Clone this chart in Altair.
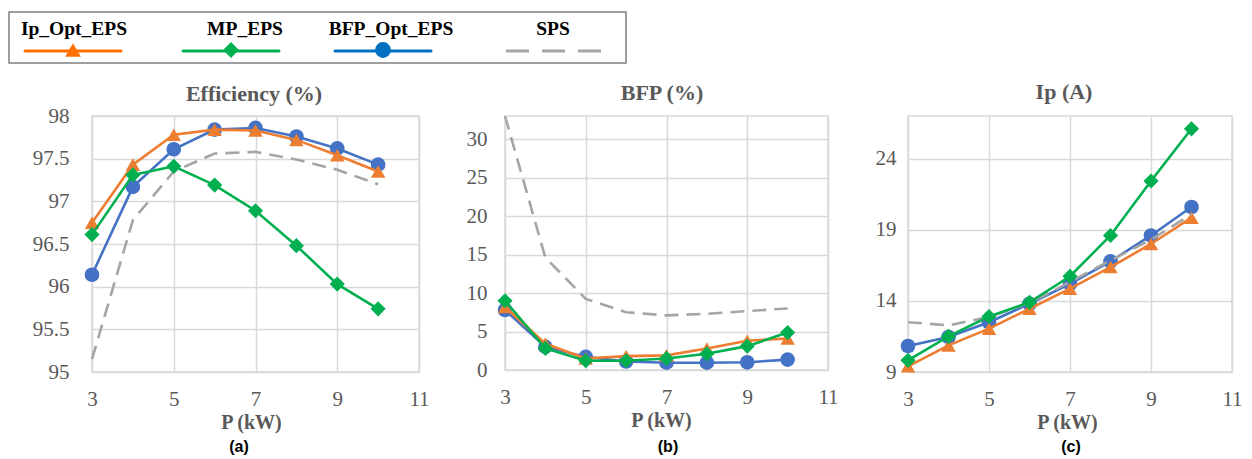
import altair as alt
import pandas as pd

# ---------------- data ----------------
P_KW = [3, 4, 5, 6, 7, 8, 9, 10]
SERIES = ["Ip_Opt_EPS", "MP_EPS", "BFP_Opt_EPS", "SPS"]

EFF_IP = [96.75, 97.43, 97.78, 97.84, 97.83, 97.72, 97.54, 97.35]
EFF_MP = [96.61, 97.31, 97.41, 97.19, 96.89, 96.48, 96.03, 95.74]
EFF_BFP = [96.14, 97.17, 97.61, 97.84, 97.86, 97.76, 97.62, 97.43]
EFF_SPS = [95.15, 96.78, 97.35, 97.56, 97.58, 97.49, 97.37, 97.20]

BFP_IP = [8.2, 3.4, 1.5, 1.8, 1.9, 2.8, 3.8, 4.1]
BFP_MP = [9.0, 2.8, 1.2, 1.2, 1.5, 2.1, 3.1, 4.86]
BFP_BFP = [7.8, 3.0, 1.7, 1.1, 0.95, 0.95, 1.0, 1.35]
BFP_SPS = [33.0, 14.6, 9.24, 7.5, 7.1, 7.3, 7.65, 8.0]

IP_IP = [9.4, 10.87, 12.05, 13.45, 14.86, 16.38, 18.0, 19.85]
IP_MP = [9.82, 11.5, 12.9, 13.9, 15.73, 18.6, 22.43, 26.1]
IP_BFP = [10.83, 11.46, 12.5, 13.8, 15.2, 16.78, 18.6, 20.6]
IP_SPS = [12.5, 12.28, 12.87, 13.85, 15.33, 16.85, 18.3, 20.1]

X_TICKS = [3, 5, 7, 9, 11]
EFF_TICKS = [95, 95.5, 96, 96.5, 97, 97.5, 98]
BFP_TICKS = [0, 5, 10, 15, 20, 25, 30]
IP_TICKS = [9, 14, 19, 24]

TITLES = ["Efficiency (%)", "BFP (%)", "Ip (A)"]
X_TITLE = "P (kW)"
CAPTIONS = ["(a)", "(b)", "(c)"]

# ---------------- style ----------------
SERIF = "Liberation Serif"
SANS = "Liberation Sans"
TXT = "#595959"
GRID = "#D9D9D9"
COLORS = {"Ip_Opt_EPS": "#ED7D31", "MP_EPS": "#00B050",
          "BFP_Opt_EPS": "#4472C4", "SPS": "#A5A5A5"}
LEG_COLORS = {"Ip_Opt_EPS": "#FF7000", "MP_EPS": "#00B050",
              "BFP_Opt_EPS": "#0070C0", "SPS": "#A6A6A6"}
SHAPES = {"Ip_Opt_EPS": "triangle-up", "MP_EPS": "diamond",
          "BFP_Opt_EPS": "circle"}
SIZES = {"Ip_Opt_EPS": 210, "MP_EPS": 230, "BFP_Opt_EPS": 215}
DRAW_ORDER = ["BFP_Opt_EPS", "Ip_Opt_EPS", "SPS", "MP_EPS"]


def panel(values, title, ydomain, yticks, yfmt, width, height, title_x,
          title_y, ypad, xtitle_x, caption, cap_x, cap_y):
    rows = []
    for s, vals in values.items():
        for x, v in zip(P_KW, vals):
            rows.append({"P": x, "v": v, "series": s})
    df = pd.DataFrame(rows)
    base = alt.Chart(df)

    xenc = alt.X("P:Q",
                 scale=alt.Scale(domain=[3, 11], nice=False, zero=False),
                 axis=alt.Axis(values=X_TICKS, title=X_TITLE, labelFlush=False,
                               labelPadding=16, titlePadding=3,
                               titleFontSize=20, titleX=xtitle_x,
                               labelOverlap=False))
    yenc = alt.Y("v:Q",
                 scale=alt.Scale(domain=ydomain, nice=False, zero=False),
                 axis=alt.Axis(values=yticks, format=yfmt, labelPadding=ypad,
                               labelAlign="right", labelBaseline="middle",
                               labelOverlap=False, title=None))

    layers = []
    for s in DRAW_ORDER:
        sub = base.transform_filter(alt.datum.series == s)
        lkw = dict(color=COLORS[s], strokeWidth=2.6)
        if s == "SPS":
            lkw["strokeDash"] = [14, 8]
        layers.append(sub.mark_line(**lkw).encode(x=xenc, y=yenc))
        if s in SHAPES:
            layers.append(sub.mark_point(shape=SHAPES[s], filled=True,
                                         size=SIZES[s], opacity=1,
                                         color=COLORS[s])
                          .encode(x=xenc, y=yenc))
    ttl = (alt.Chart(pd.DataFrame({"t": [title]}))
           .mark_text(font=SERIF, fontWeight="bold", fontSize=22,
                      color=TXT, baseline="middle")
           .encode(text="t:N", x=alt.value(title_x), y=alt.value(title_y)))
    cap = (alt.Chart(pd.DataFrame({"t": [caption]}))
           .mark_text(font=SANS, fontWeight="bold", fontSize=16,
                      color="black", baseline="middle")
           .encode(text="t:N", x=alt.value(cap_x), y=alt.value(cap_y)))
    layers += [ttl, cap]
    return alt.layer(*layers).properties(
        width=width, height=height,
        view=alt.ViewBackground(stroke=GRID, strokeWidth=1.5),
    )


pa = panel({"BFP_Opt_EPS": EFF_BFP, "Ip_Opt_EPS": EFF_IP, "SPS": EFF_SPS,
            "MP_EPS": EFF_MP}, TITLES[0], [95, 98], EFF_TICKS, ".1~f",
           327, 256, 162, -22, 23, 159, CAPTIONS[0], 147, 331)
pb = panel({"BFP_Opt_EPS": BFP_BFP, "Ip_Opt_EPS": BFP_IP, "SPS": BFP_SPS,
            "MP_EPS": BFP_MP}, TITLES[1], [0, 33], BFP_TICKS, "d",
           323, 254, 157, -23, 18, 156, CAPTIONS[1], 163, 331)
pc = panel({"BFP_Opt_EPS": IP_BFP, "Ip_Opt_EPS": IP_IP, "SPS": IP_SPS,
            "MP_EPS": IP_MP}, TITLES[2], [9, 27], IP_TICKS, "d",
           324, 256, 156, -24, 12, 159, CAPTIONS[2], 163, 331)

# ---------------- legend (box drawn left of the first panel's origin) ----
BOX_L, BOX_R = -83, 534
LEG_LINE_X = [-19, 139, 291, 462]
LEG_TEXT_X = [-18, 153, 299, 461]
leg_layers = [
    alt.Chart(pd.DataFrame({"name": ["box"]}))
    .mark_rect(fillOpacity=0, stroke="#7F7F7F", strokeWidth=1.5)
    .encode(x=alt.value(BOX_L), x2=alt.value(BOX_R),
            y=alt.value(0), y2=alt.value(51))
]
for s, lx, tx in zip(SERIES, LEG_LINE_X, LEG_TEXT_X):
    c = alt.Chart(pd.DataFrame({"name": [s]}))
    leg_layers.append(
        c.mark_text(font=SERIF, fontWeight="bold", fontSize=19.5,
                    color="black", baseline="middle")
        .encode(text="name:N", x=alt.value(tx), y=alt.value(17)))
    rkw = dict(color=LEG_COLORS[s], strokeWidth=3)
    if s == "SPS":
        rkw["strokeDash"] = [23, 13]
    else:
        rkw["strokeCap"] = "round"
    leg_layers.append(
        c.mark_rule(**rkw).encode(x=alt.value(lx - 48), x2=alt.value(lx + 48),
                                  y=alt.value(39)))
    if s in SHAPES:
        leg_layers.append(
            c.mark_point(shape=SHAPES[s], filled=True, size=250, opacity=1,
                         color=LEG_COLORS[s])
            .encode(x=alt.value(lx), y=alt.value(38)))
legend = alt.layer(*leg_layers).properties(
    width=400, height=51,
    view=alt.ViewBackground(stroke="transparent", strokeWidth=0))

chart = alt.vconcat(
    legend,
    alt.hconcat(pa, pb, pc, spacing=35),
    spacing=16,
).properties(
    padding={"left": 0, "top": 3, "right": 0, "bottom": 0},
    background="white",
).configure_axis(
    labelFont=SERIF, labelFontSize=21, labelColor=TXT,
    titleFont=SERIF, titleFontWeight="bold", titleColor=TXT,
    grid=True, gridColor=GRID, gridWidth=1.5,
    domain=False, ticks=False, tickSize=0,
).configure_view(stroke=GRID)

chart.save("out.html", embed_options={"renderer": "svg", "actions": False})
